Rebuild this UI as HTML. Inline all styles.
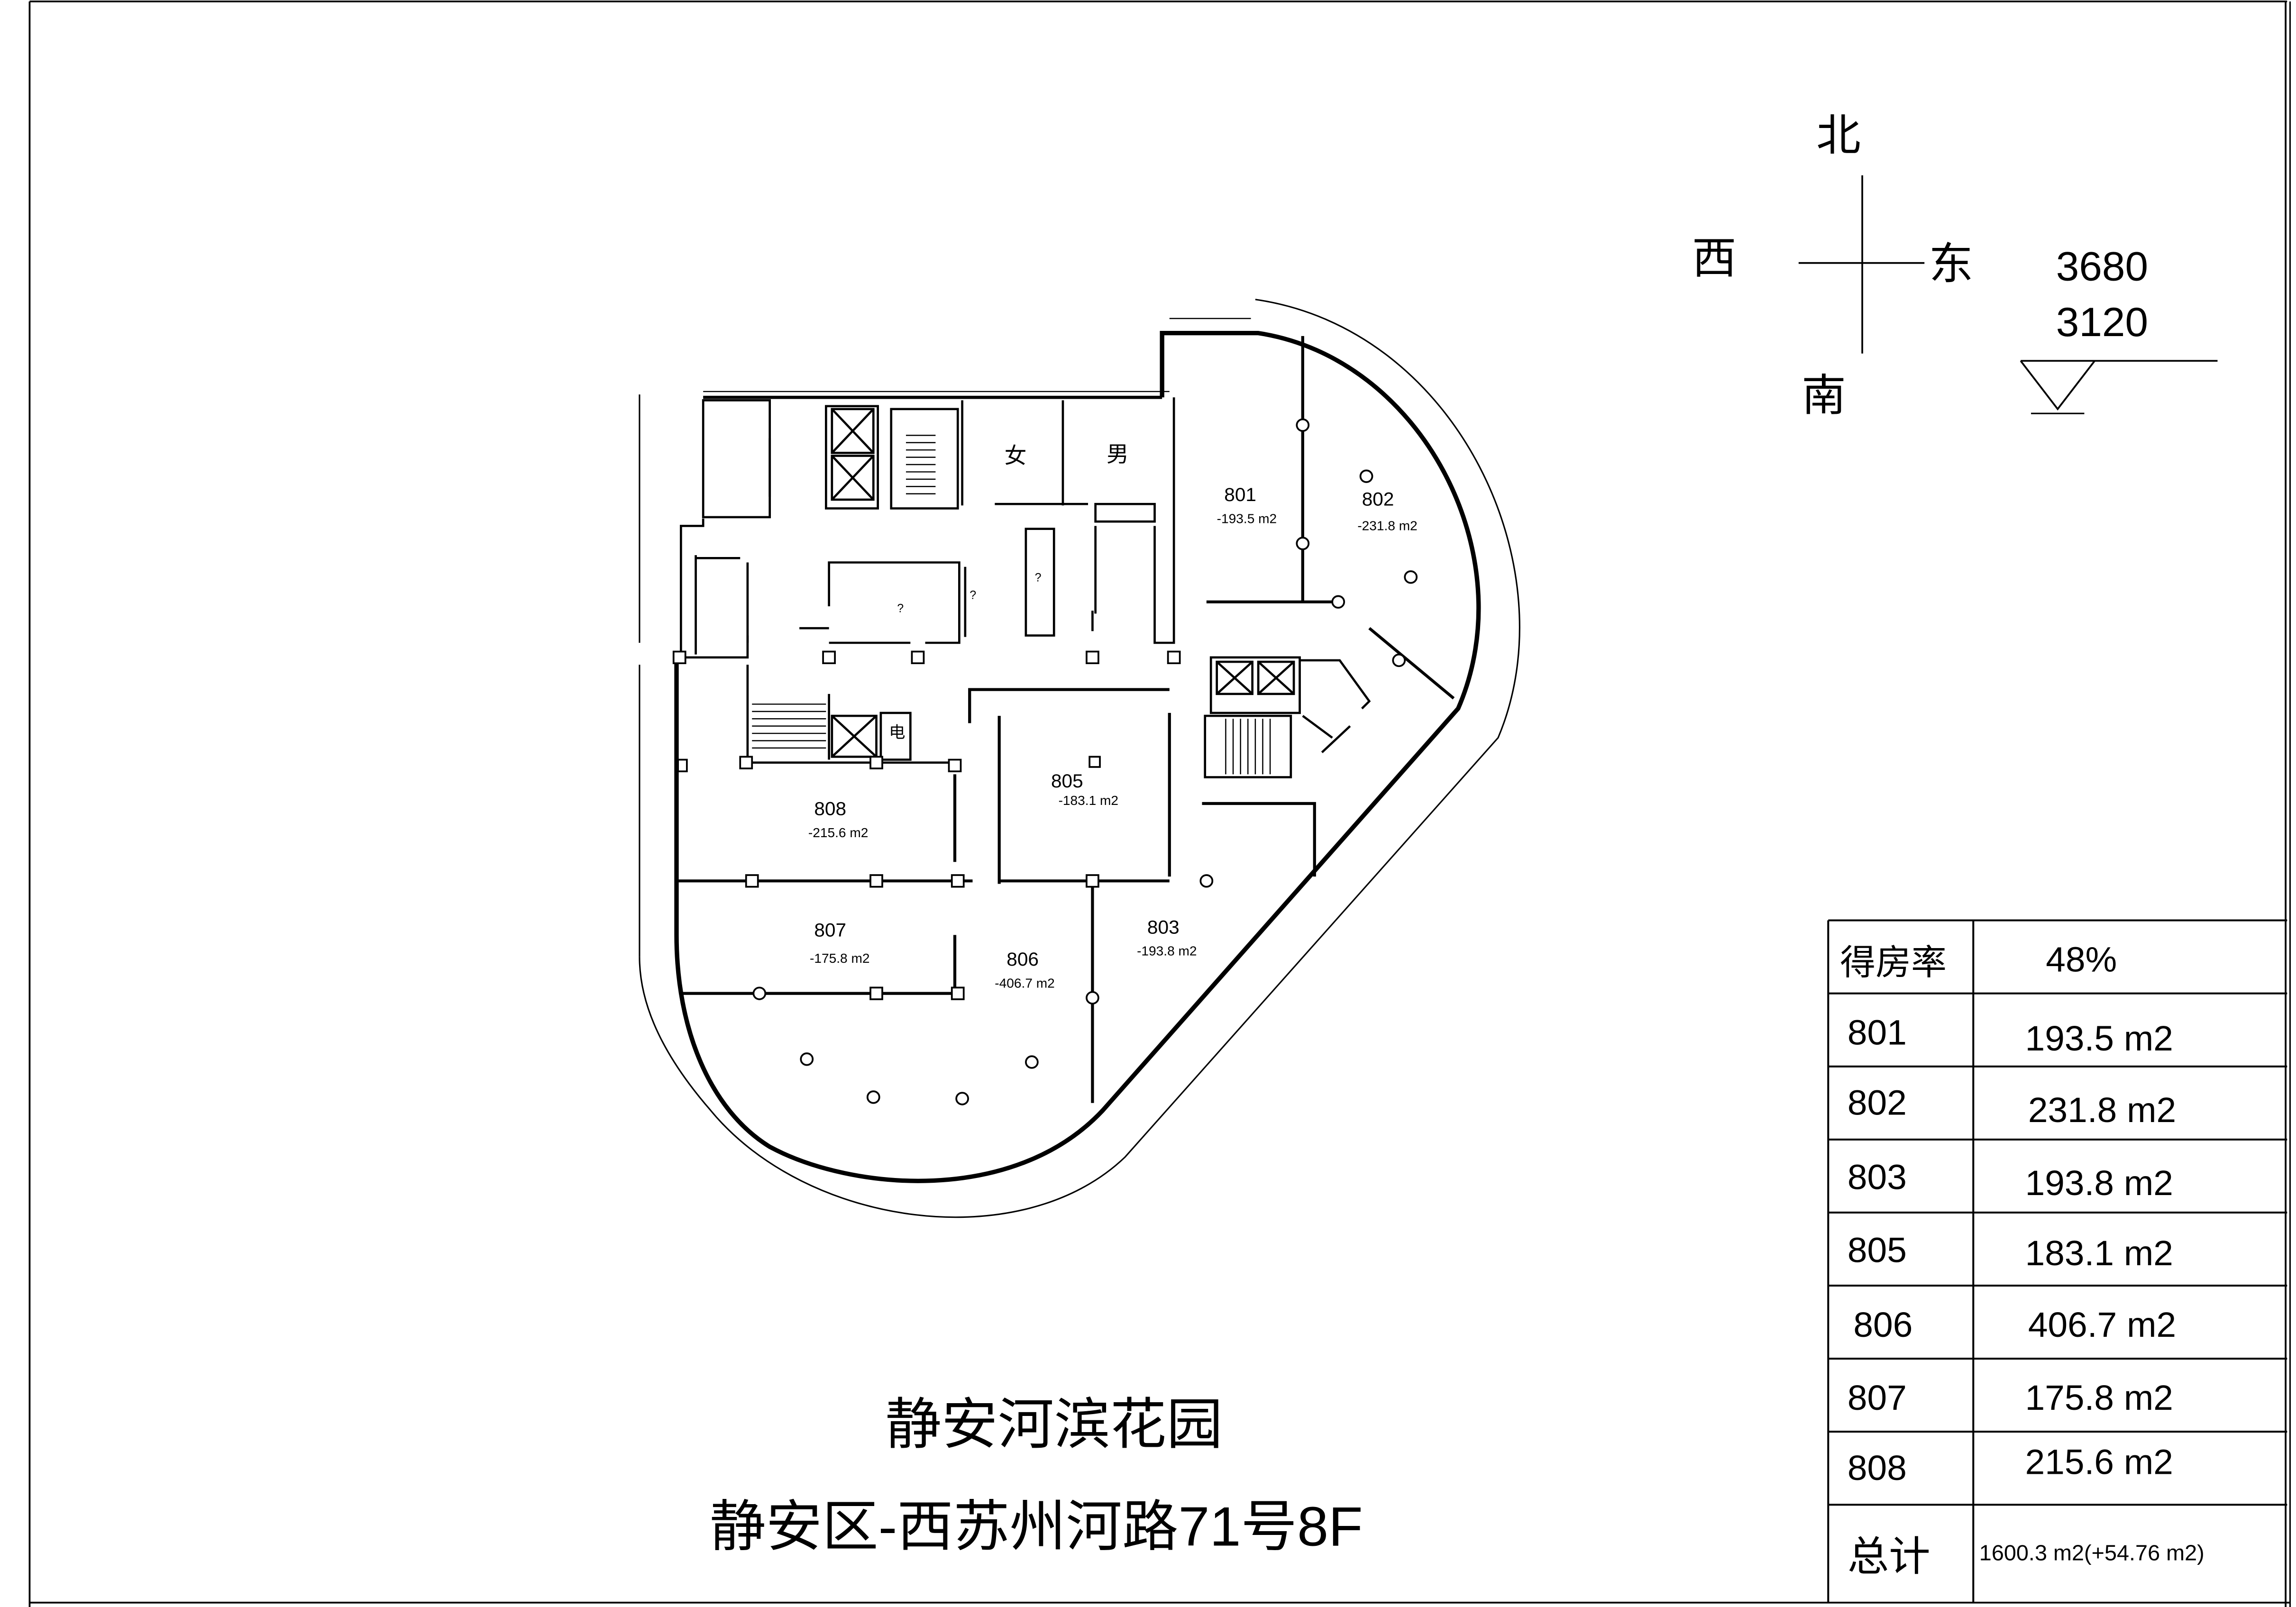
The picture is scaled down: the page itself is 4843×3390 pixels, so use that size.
<!DOCTYPE html>
<html><head><meta charset="utf-8"><style>
html,body{margin:0;padding:0;background:#fff;}
svg{display:block;}
text{font-family:"Liberation Sans","Noto Sans CJK SC",sans-serif;fill:#000;}
</style></head><body>
<svg width="4843" height="3390" viewBox="0 0 1551 1100" preserveAspectRatio="none" xmlns="http://www.w3.org/2000/svg">
<g fill="none" stroke="#000">
<!-- frame -->
<line x1="20" y1="1" x2="1545" y2="1" stroke-width="1.2"/>
<line x1="20" y1="1" x2="20" y2="1100" stroke-width="1.2"/>
<line x1="1544" y1="1" x2="1544" y2="1100" stroke-width="1.2"/>
<line x1="1547" y1="1" x2="1547" y2="1100" stroke-width="1"/>
<line x1="20" y1="1097" x2="1547" y2="1097" stroke-width="1.2"/>
<!-- compass -->
<line x1="1258" y1="120" x2="1258" y2="242" stroke-width="1.2"/>
<line x1="1215" y1="180" x2="1300" y2="180" stroke-width="1.2"/>
<line x1="1365" y1="247" x2="1498" y2="247" stroke-width="1.2"/>
<path d="M1365,247 L1390,280 L1415,247" stroke-width="1.2"/>
<line x1="1372" y1="283" x2="1408" y2="283" stroke-width="1"/>
<!-- table -->
<g stroke-width="1.3">
<line x1="1235" y1="630" x2="1545" y2="630"/>
<line x1="1235" y1="630" x2="1235" y2="1097"/>
<line x1="1333" y1="630" x2="1333" y2="1097"/>
<line x1="1235" y1="680" x2="1545" y2="680"/>
<line x1="1235" y1="730" x2="1545" y2="730"/>
<line x1="1235" y1="780" x2="1545" y2="780"/>
<line x1="1235" y1="830" x2="1545" y2="830"/>
<line x1="1235" y1="880" x2="1545" y2="880"/>
<line x1="1235" y1="930" x2="1545" y2="930"/>
<line x1="1235" y1="980" x2="1545" y2="980"/>
<line x1="1235" y1="1030" x2="1545" y2="1030"/>
</g>
<!-- floor plan outer thin curve -->
<path d="M848,205 C985,225 1060,390 1012,505 L760,792 C690,860 545,840 480,760 C450,725 432,690 432,655" stroke-width="1"/>
<line x1="432" y1="455" x2="432" y2="655" stroke-width="1"/>
<line x1="432" y1="270" x2="432" y2="440" stroke-width="1"/>
<line x1="475" y1="268" x2="790" y2="268" stroke-width="0.8"/>
<line x1="790" y1="218" x2="845" y2="218" stroke-width="0.8"/>
<!-- thick outline -->
<path d="M785,272 L785,228 L850,228 C960,245 1030,380 985,485 L745,760 C685,825 575,815 520,785 C480,760 457,705 457,640 L457,450" stroke-width="3"/>
<path d="M475,272 L785,272" stroke-width="2.2"/>
<!-- left core -->
<g stroke-width="1.5">
<rect x="475" y="274" width="45" height="80"/>
<path d="M475,355 L475,360 L460,360 L460,450 L505,450 L505,435"/>
<path d="M470,380 L470,448"/>
<line x1="505" y1="385" x2="505" y2="440"/>
<path d="M470,382 L500,382"/>
<line x1="520" y1="300" x2="520" y2="340"/>
<rect x="558" y="278" width="35" height="70"/>
<rect x="562" y="280" width="28" height="30"/><path d="M562,280 L590,310 M590,280 L562,310"/>
<rect x="562" y="312" width="28" height="30"/><path d="M562,312 L590,342 M590,312 L562,342"/>
<rect x="602" y="280" width="45" height="68"/>
<line x1="650" y1="274" x2="650" y2="346"/>
<line x1="718" y1="274" x2="718" y2="346"/>
<line x1="672" y1="345" x2="735" y2="345"/>
<rect x="740" y="345" width="40" height="12"/>
<path d="M740,360 L740,420 M780,360 L780,440 L793,440 L793,272"/>
<rect x="693" y="362" width="19" height="73"/>
<path d="M560,415 L560,385 L648,385 L648,440 L625,440 M615,440 L560,440"/>
<line x1="652" y1="388" x2="652" y2="436"/>
<line x1="540" y1="430" x2="560" y2="430"/>
<line x1="738" y1="418" x2="738" y2="432"/>
</g>
<!-- stairs hatch -->
<g stroke-width="0.8">
<path d="M612,298h20M612,303h20M612,308h20M612,313h20M612,318h20M612,323h20M612,328h20M612,333h20M612,338h20"/>
<path d="M508,482h50M508,487h50M508,492h50M508,497h50M508,502h50M508,507h50M508,512h50"/>
<path d="M828,492v38M833,492v38M838,492v38M843,492v38M848,492v38M853,492v38M858,492v38"/>
</g>
<!-- lower left core -->
<g stroke-width="1.5">
<path d="M505,455 L505,522 L645,522"/>
<rect x="562" y="490" width="30" height="28"/><path d="M562,490 L592,518 M592,490 L562,518"/>
<rect x="595" y="488" width="20" height="32"/>
<path d="M560,475 L560,520"/>
</g>
<!-- right core -->
<g stroke-width="1.5">
<rect x="818" y="450" width="60" height="38"/>
<rect x="822" y="453" width="24" height="22"/><path d="M822,453 L846,475 M846,453 L822,475"/>
<rect x="850" y="453" width="24" height="22"/><path d="M850,453 L874,475 M874,453 L850,475"/>
<rect x="814" y="490" width="58" height="42"/>
<path d="M878,452 L905,452 L925,480 L920,485 M880,490 L900,505 M893,515 L912,497"/>
</g>
<!-- room partitions -->
<g stroke-width="2">
<line x1="457" y1="603" x2="657" y2="603"/>
<line x1="460" y1="680" x2="650" y2="680"/>
<line x1="675" y1="603" x2="790" y2="603"/>
<line x1="645" y1="530" x2="645" y2="590"/>
<line x1="645" y1="640" x2="645" y2="680"/>
<path d="M655,495 L655,472 L790,472"/>
<line x1="675" y1="490" x2="675" y2="605"/>
<line x1="790" y1="488" x2="790" y2="600"/>
<line x1="738" y1="603" x2="738" y2="755"/>
<line x1="880" y1="230" x2="880" y2="412"/>
<line x1="815" y1="412" x2="905" y2="412"/>
<line x1="925" y1="430" x2="982" y2="478"/>
<path d="M812,550 L888,550 L888,600"/>
</g>
<!-- columns -->
<g stroke-width="1.2" fill="#fff">
<rect x="504" y="599" width="8" height="8"/><rect x="588" y="599" width="8" height="8"/><rect x="643" y="599" width="8" height="8"/>
<rect x="734" y="599" width="8" height="8"/><rect x="588" y="676" width="8" height="8"/><rect x="643" y="676" width="8" height="8"/>
<rect x="500" y="518" width="8" height="8"/><rect x="588" y="518" width="8" height="8"/><rect x="641" y="520" width="8" height="8"/>
<rect x="556" y="446" width="8" height="8"/><rect x="616" y="446" width="8" height="8"/><rect x="734" y="446" width="8" height="8"/><rect x="789" y="446" width="8" height="8"/>
<rect x="455" y="446" width="8" height="8"/><rect x="458" y="520" width="6" height="8"/><rect x="736" y="518" width="7" height="7"/>
<circle cx="513" cy="680" r="4"/><circle cx="738" cy="683" r="4"/><circle cx="880" cy="291" r="4"/><circle cx="880" cy="372" r="4"/><circle cx="904" cy="412" r="4"/><circle cx="945" cy="452" r="4"/>
<circle cx="815" cy="603" r="4"/><circle cx="545" cy="725" r="4"/><circle cx="697" cy="727" r="4"/><circle cx="590" cy="751" r="4"/><circle cx="650" cy="752" r="4"/><circle cx="923" cy="326" r="4"/><circle cx="953" cy="395" r="4"/>
</g>
</g>
<!-- text -->
<text x="1242" y="103" font-size="30" text-anchor="middle">北</text>
<text x="1158" y="187" font-size="30" text-anchor="middle">西</text>
<text x="1318" y="191" font-size="30" text-anchor="middle">东</text>
<text x="1232" y="281" font-size="30" text-anchor="middle">南</text>
<text x="1420" y="192" font-size="28" text-anchor="middle" font-family="Liberation Serif, serif">3680</text>
<text x="1420" y="230" font-size="28" text-anchor="middle" font-family="Liberation Serif, serif">3120</text>
<g font-size="24">
<text x="1243" y="667">得房率</text><text x="1382" y="665">48%</text>
<text x="1248" y="715">801</text><text x="1368" y="719">193.5 m2</text>
<text x="1248" y="763">802</text><text x="1370" y="768">231.8 m2</text>
<text x="1248" y="814">803</text><text x="1368" y="818">193.8 m2</text>
<text x="1248" y="864">805</text><text x="1368" y="866">183.1 m2</text>
<text x="1252" y="915">806</text><text x="1370" y="915">406.7 m2</text>
<text x="1248" y="965">807</text><text x="1368" y="965">175.8 m2</text>
<text x="1248" y="1013">808</text><text x="1368" y="1009">215.6 m2</text>
<text x="1248" y="1075" font-size="28">总计</text>
</g>
<text x="1337" y="1068" font-size="15">1600.3 m2(+54.76 m2)</text>
<text x="712" y="988" font-size="38" text-anchor="middle">静安河滨花园</text>
<text x="700" y="1058" font-size="38" text-anchor="middle">静安区-西苏州河路71号8F</text>
<g font-size="13">
<text x="686" y="317" font-size="15" text-anchor="middle">女</text>
<text x="755" y="316" font-size="15" text-anchor="middle">男</text>
<text x="606" y="505" font-size="11" text-anchor="middle">电</text>
<text x="827" y="343">801</text><text x="822" y="358" font-size="9">-193.5 m2</text>
<text x="920" y="346">802</text><text x="917" y="363" font-size="9">-231.8 m2</text>
<text x="710" y="539">805</text><text x="715" y="551" font-size="9">-183.1 m2</text>
<text x="550" y="558">808</text><text x="546" y="573" font-size="9">-215.6 m2</text>
<text x="550" y="641">807</text><text x="547" y="659" font-size="9">-175.8 m2</text>
<text x="680" y="661">806</text><text x="672" y="676" font-size="9">-406.7 m2</text>
<text x="775" y="639">803</text><text x="768" y="654" font-size="9">-193.8 m2</text>
<text x="606" y="419" font-size="8">?</text><text x="655" y="410" font-size="8">?</text><text x="699" y="398" font-size="8">?</text>
</g>
</svg>
</body></html>
